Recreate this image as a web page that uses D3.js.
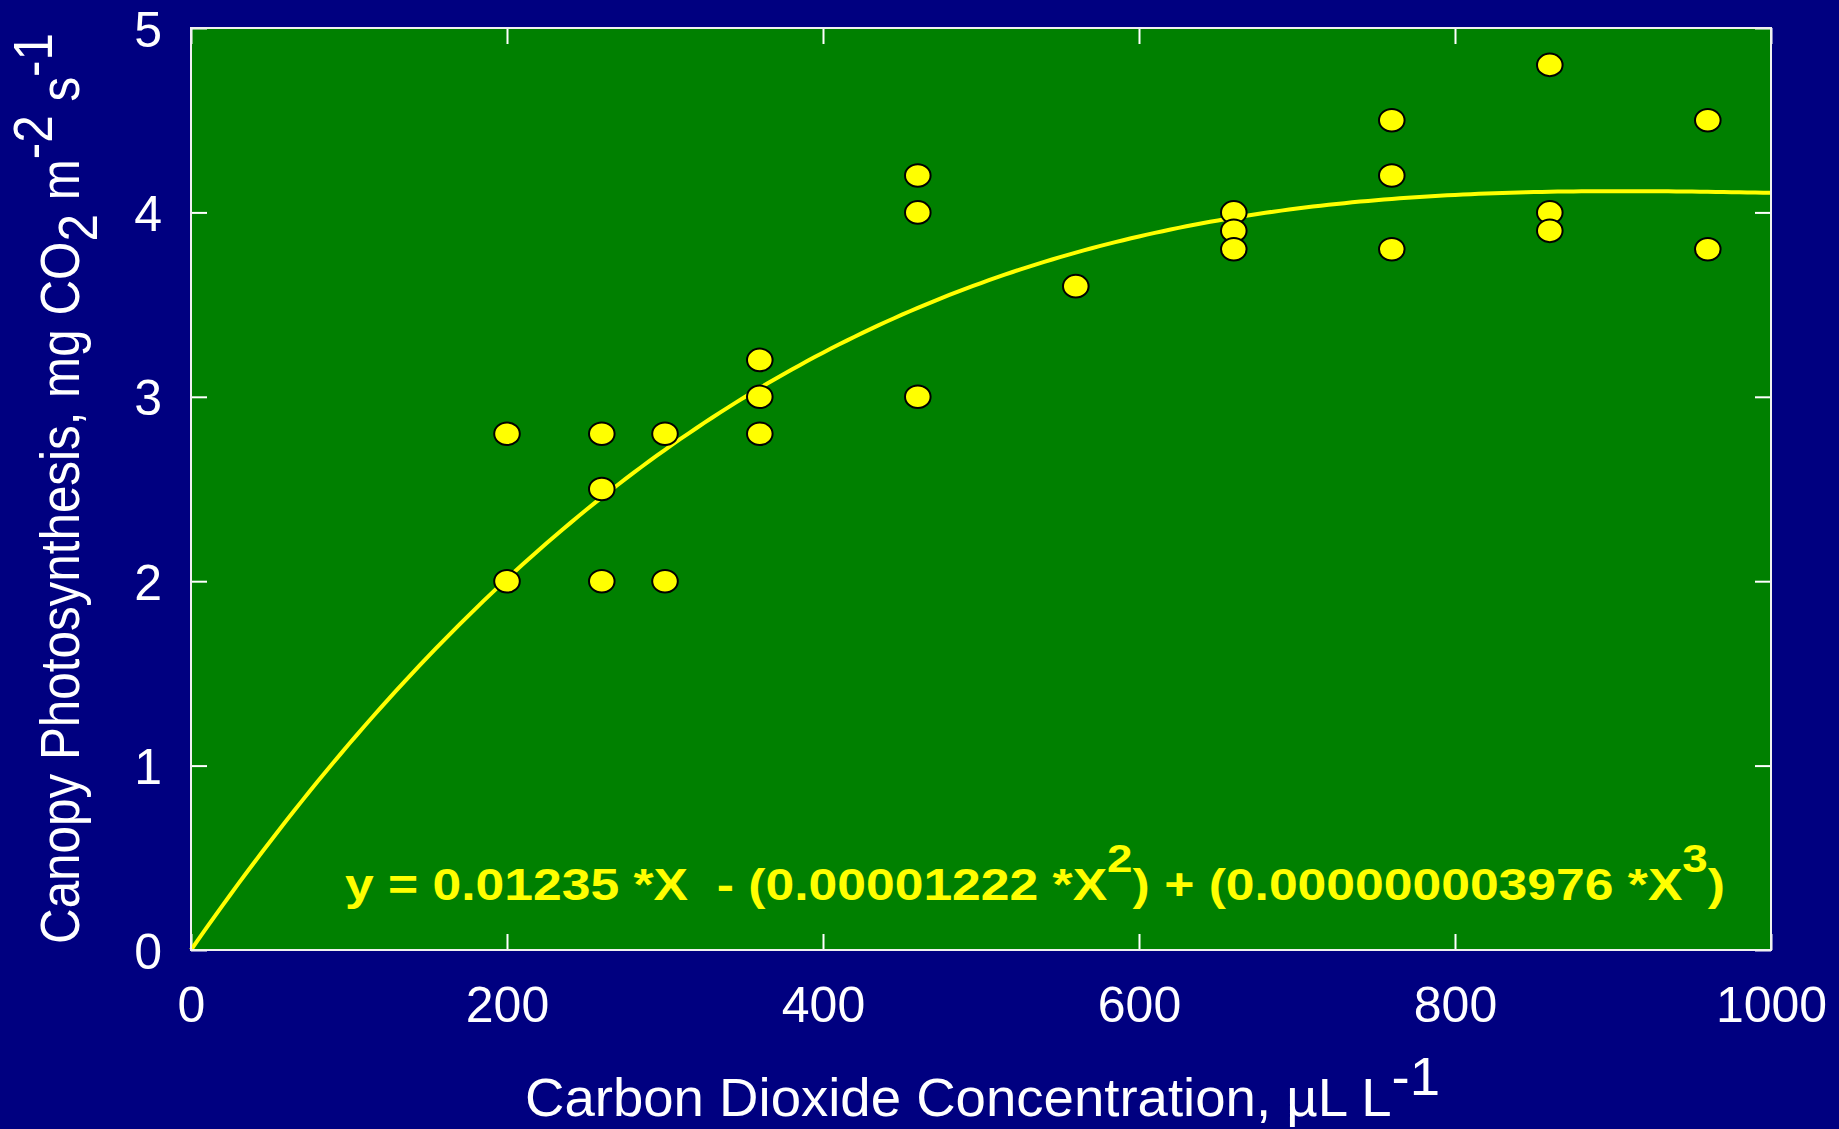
<!DOCTYPE html>
<html>
<head>
<meta charset="utf-8">
<script src="https://cdn.jsdelivr.net/npm/d3@7"></script>
<style>
  html, body { margin: 0; padding: 0; background: #000080; }
  svg { display: block; }
  text { font-family: "Liberation Sans", Arial, sans-serif; white-space: pre; }
</style>
</head>
<body>
<svg id="chart" width="1839" height="1129"></svg>
<script>
// ---- data ----
const co2 = [200, 200, 260, 260, 260, 300, 300, 360, 360, 360, 460, 460, 460, 560, 660, 660, 660, 760, 760, 760, 860, 860, 860, 960, 960];
const photosynthesis = [2.8, 2.0, 2.8, 2.5, 2.0, 2.8, 2.0, 3.2, 3.0, 2.8, 4.2, 4.0, 3.0, 3.6, 4.0, 3.9, 3.8, 4.5, 4.2, 3.8, 4.8, 4.0, 3.9, 4.5, 3.8];
// fitted polynomial coefficients (x, x^2, x^3), as shown in the equation
const fitCoefficients = [0.01235, -0.00001222, 0.000000003976];
const xTicks = [0, 200, 400, 600, 800, 1000];
const yTicks = [0, 1, 2, 3, 4, 5];

// ---- layout ----
const W = 1839, H = 1129;
const L = 191, R = 1771, T = 28, B = 950;

const svg = d3.select("#chart");
svg.append("rect").attr("width", W).attr("height", H).attr("fill", "#000080");

const x = d3.scaleLinear().domain([0, 1000]).range([L, R]);
const y = d3.scaleLinear().domain([0, 5]).range([B, T]);

// plot area
svg.append("rect")
  .attr("x", L).attr("y", T).attr("width", R - L).attr("height", B - T)
  .attr("fill", "#008000");

// axes with inward ticks
function styleAxis(g, showLabels) {
  g.select(".domain").remove();
  g.selectAll(".tick line").attr("stroke", "#ffffff").attr("stroke-width", 2);
  g.selectAll(".tick text")
    .attr("fill", "#ffffff")
    .attr("font-size", 50)
    .attr("font-family", "Liberation Sans, Arial, sans-serif");
  if (!showLabels) g.selectAll(".tick text").remove();
}

const gx = svg.append("g").attr("transform", `translate(0,${B})`)
  .call(d3.axisBottom(x).tickValues(xTicks).tickSize(-16).tickPadding(0).tickFormat(d3.format("d")));
styleAxis(gx, true);
gx.selectAll(".tick text").attr("y", 72).attr("dy", null);

const gxt = svg.append("g").attr("transform", `translate(0,${T})`)
  .call(d3.axisTop(x).tickValues(xTicks).tickSize(-16));
styleAxis(gxt, false);

const gy = svg.append("g").attr("transform", `translate(${L},0)`)
  .call(d3.axisLeft(y).tickValues(yTicks).tickSize(-16).tickPadding(0).tickFormat(d3.format("d")));
styleAxis(gy, true);
gy.selectAll(".tick text").attr("x", -29).attr("dy", "0.36em");

const gyr = svg.append("g").attr("transform", `translate(${R},0)`)
  .call(d3.axisRight(y).tickValues(yTicks).tickSize(-16));
styleAxis(gyr, false);

// fitted curve
const fit = v => fitCoefficients[0] * v + fitCoefficients[1] * v * v + fitCoefficients[2] * v * v * v;
const curveX = d3.range(0, 1000.001, 5);
svg.append("path")
  .datum(curveX)
  .attr("fill", "none")
  .attr("stroke", "#ffff00")
  .attr("stroke-width", 4)
  .attr("d", d3.line().x(d => x(d)).y(d => y(fit(d))));

// points
svg.append("g").selectAll("ellipse")
  .data(co2.map((c, i) => [c, photosynthesis[i]]))
  .join("ellipse")
  .attr("cx", d => x(d[0]))
  .attr("cy", d => y(d[1]))
  .attr("rx", 12.8)
  .attr("ry", 11.3)
  .attr("fill", "#ffff00")
  .attr("stroke", "#000000")
  .attr("stroke-width", 2);

// frame
svg.append("rect")
  .attr("x", L).attr("y", T).attr("width", R - L).attr("height", B - T)
  .attr("fill", "none").attr("stroke", "#f0f0f0").attr("stroke-width", 2);

// equation
const eq = svg.append("text")
  .attr("x", 345).attr("y", 900)
  .attr("fill", "#ffff00").attr("font-weight", "bold").attr("font-size", 44)
  .attr("textLength", 1380).attr("lengthAdjust", "spacingAndGlyphs");
eq.append("tspan").text("y = 0.01235 *X  - (0.00001222 *X");
eq.append("tspan").attr("dy", -28).attr("font-size", 39).text("2");
eq.append("tspan").attr("dy", 28).text(") + (0.000000003976 *X");
eq.append("tspan").attr("dy", -28).attr("font-size", 39).text("3");
eq.append("tspan").attr("dy", 28).text(")");

// x-axis title
const xt = svg.append("text")
  .attr("x", 525).attr("y", 1116)
  .attr("fill", "#ffffff").attr("font-size", 54)
  .attr("textLength", 915).attr("lengthAdjust", "spacingAndGlyphs");
xt.append("tspan").text("Carbon Dioxide Concentration, µL L");
xt.append("tspan").attr("dy", -21).text("-1");

// y-axis title
const yt = svg.append("text")
  .attr("transform", "translate(79,944) rotate(-90)")
  .attr("x", 0).attr("y", 0)
  .attr("fill", "#ffffff").attr("font-size", 55)
  .attr("textLength", 911).attr("lengthAdjust", "spacingAndGlyphs");
yt.append("tspan").text("Canopy Photosynthesis, mg CO");
yt.append("tspan").attr("dy", 18).text("2");
yt.append("tspan").attr("dy", -18).text(" m");
yt.append("tspan").attr("dy", -27).text("-2");
yt.append("tspan").attr("dy", 27).text(" s");
yt.append("tspan").attr("dy", -27).text("-1");
</script>
</body>
</html>
